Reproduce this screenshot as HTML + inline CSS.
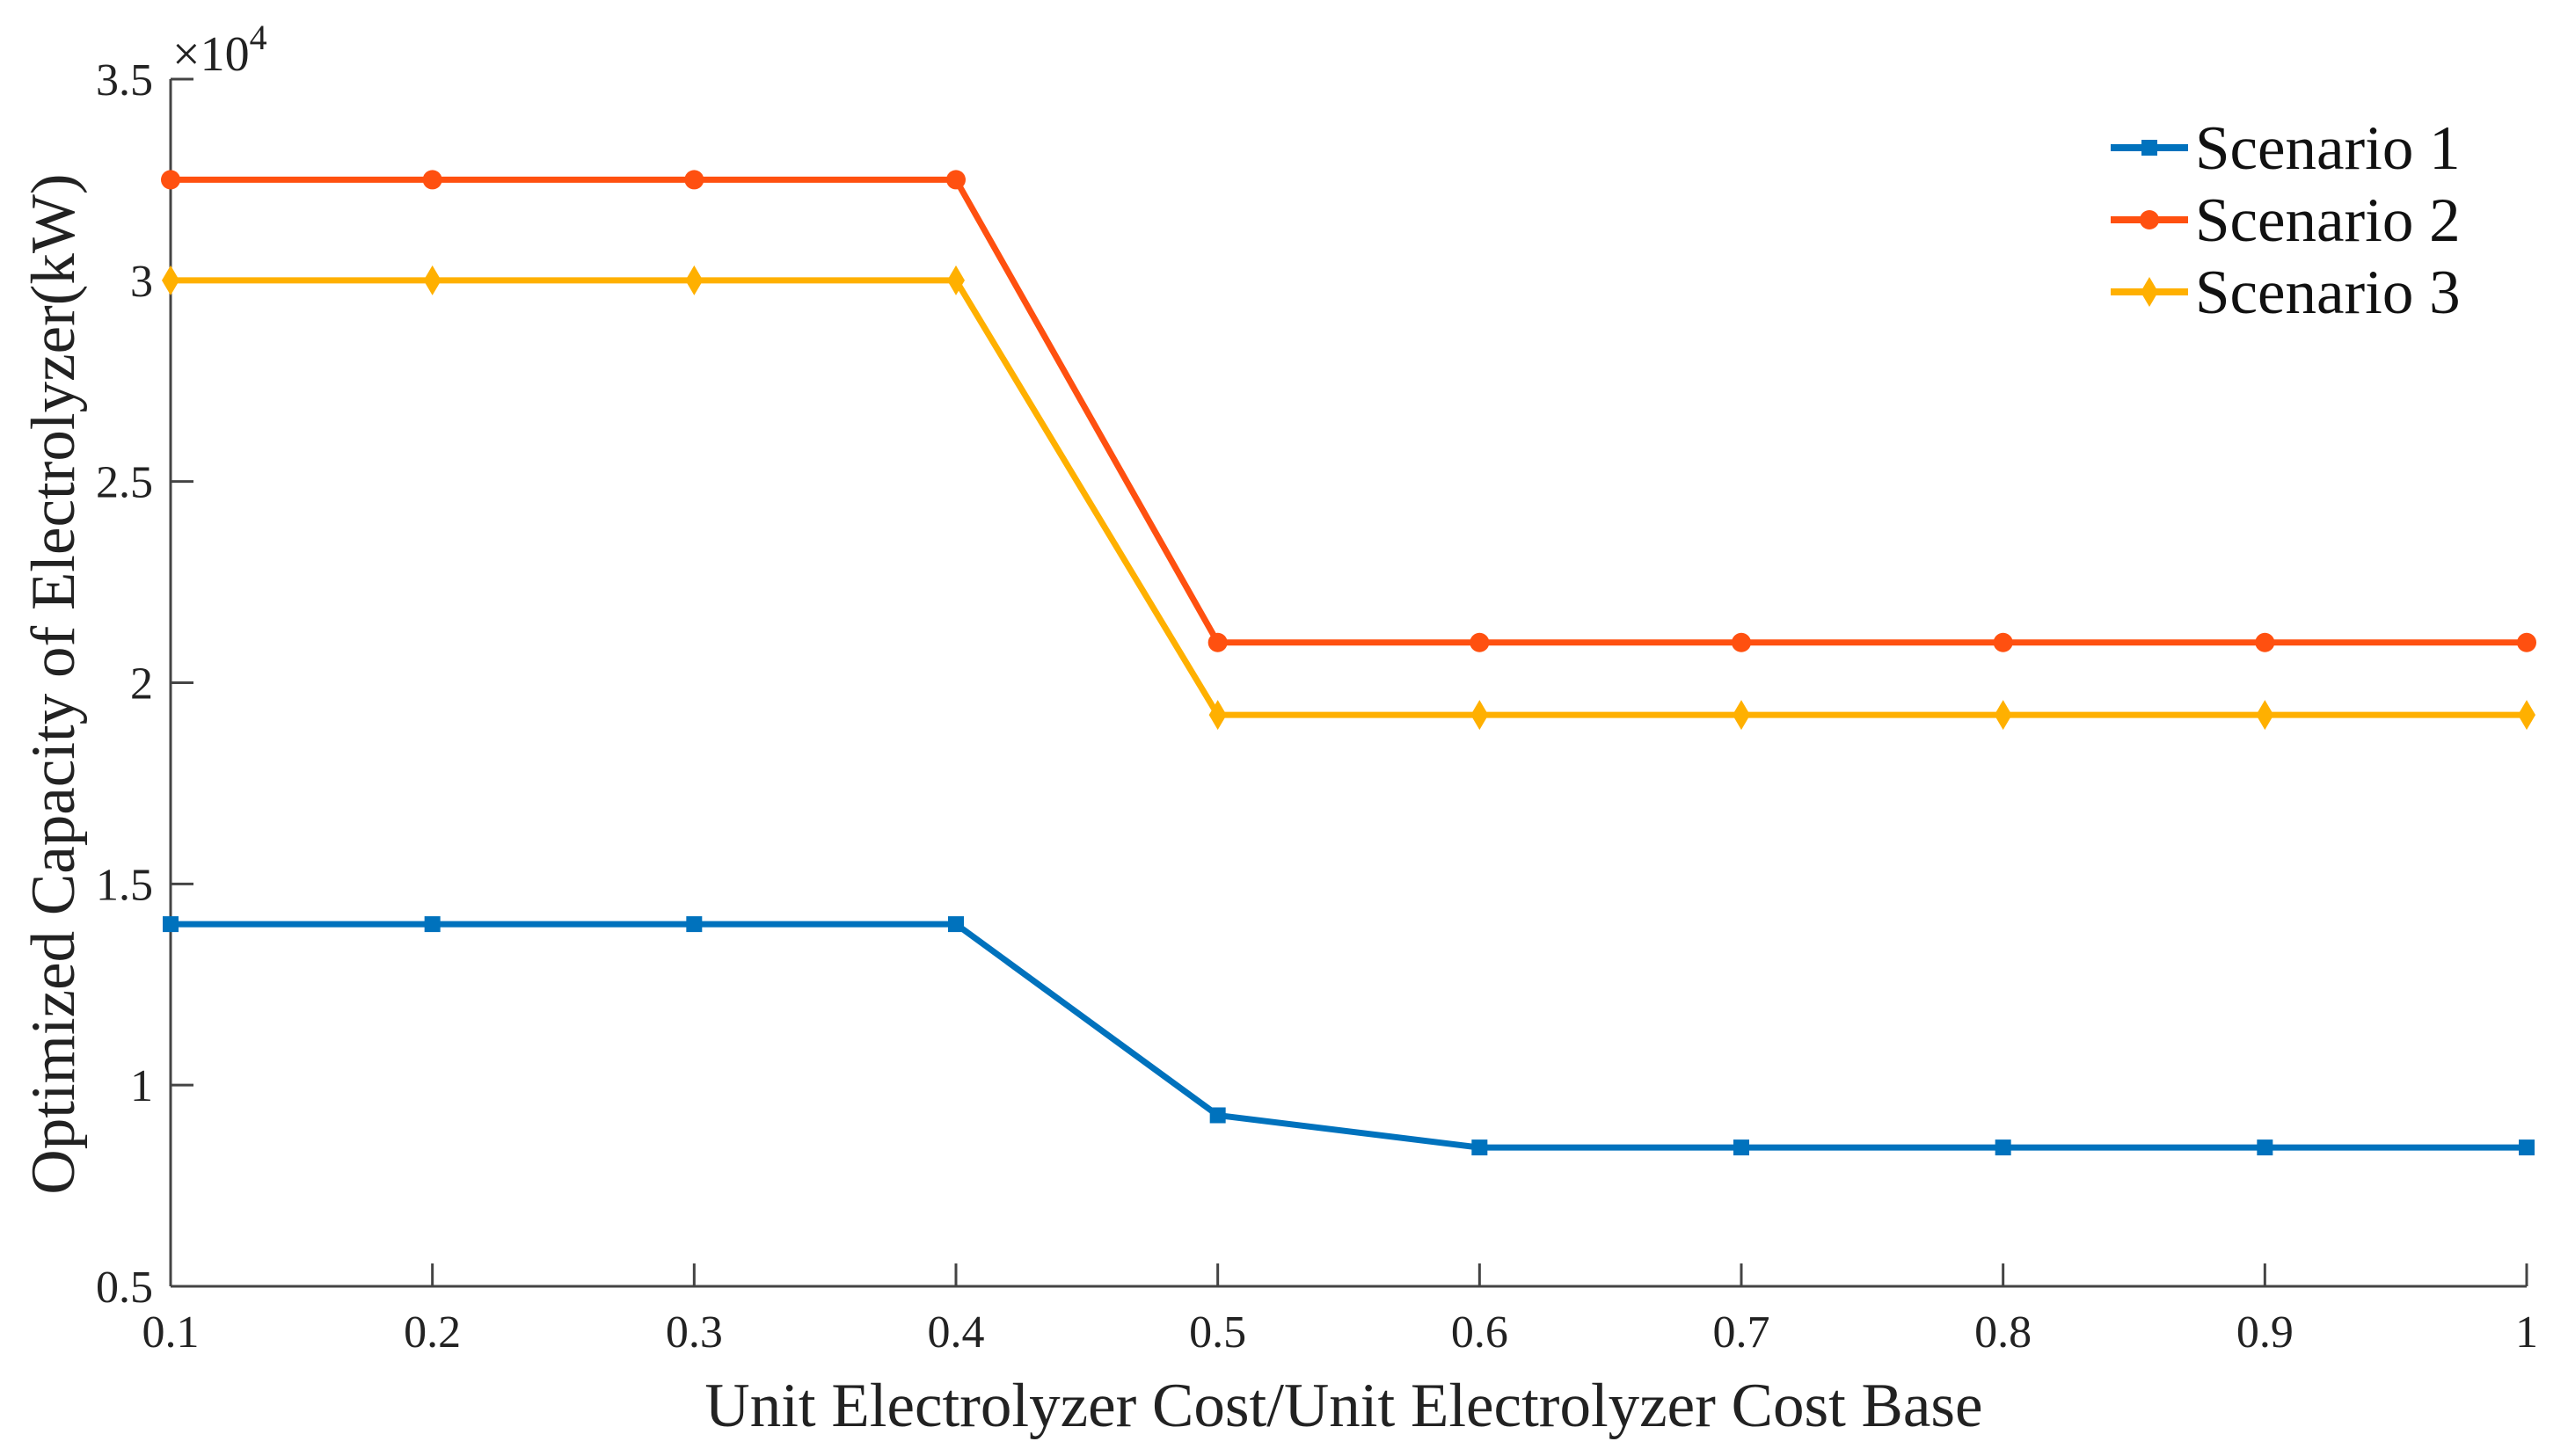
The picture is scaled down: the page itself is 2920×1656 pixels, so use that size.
<!DOCTYPE html>
<html><head><meta charset="utf-8"><style>
html,body{margin:0;padding:0;background:#fff;}
svg{display:block;font-family:"Liberation Serif",serif;}
</style></head><body>
<svg id="chart" width="2920" height="1656" viewBox="0 0 2920 1656">
<g id="axes"></g><g id="series"></g><g id="legend"></g>
</svg>
<script>
const categories=[0.1,0.2,0.3,0.4,0.5,0.6,0.7,0.8,0.9,1.0];
const xTicks=["0.1","0.2","0.3","0.4","0.5","0.6","0.7","0.8","0.9","1"];
const yTickVals=[0.5,1,1.5,2,2.5,3,3.5];
const yTickLabels=["0.5","1","1.5","2","2.5","3","3.5"];
const scenario1=[1.40,1.40,1.40,1.40,0.925,0.845,0.845,0.845,0.845,0.845];
const scenario2=[3.25,3.25,3.25,3.25,2.10,2.10,2.10,2.10,2.10,2.10];
const scenario3=[3.00,3.00,3.00,3.00,1.92,1.92,1.92,1.92,1.92,1.92];
const seriesNames=["Scenario 1","Scenario 2","Scenario 3"];

const NS="http://www.w3.org/2000/svg";
const X0=194,X1=2873,Y0=1463,Y1=90;
const xs=v=>X0+(v-0.1)/0.9*(X1-X0);
const ys=v=>Y0-(v-0.5)/3*(Y0-Y1);
function mk(tag,attrs,parent){const e=document.createElementNS(NS,tag);for(const k in attrs)e.setAttribute(k,attrs[k]);parent.appendChild(e);return e;}
const axes=document.getElementById('axes'),ser=document.getElementById('series'),leg=document.getElementById('legend');

let a=mk('line',{x1:X0,y1:Y0,x2:X1,y2:Y0,stroke:'#444','stroke-width':3},axes);


a=mk('line',{x1:X0,y1:Y0,x2:X0,y2:Y1,stroke:'#444','stroke-width':3},axes);



categories.forEach((c,i)=>{
  const x=xs(c);
  mk('line',{x1:x,y1:Y0,x2:x,y2:Y0-26,stroke:'#444','stroke-width':3},axes);
  const t=mk('text',{x:x,y:1532,'font-size':52,'text-anchor':'middle',fill:'#222'},axes);
  t.textContent=xTicks[i];
  
  
});
yTickVals.forEach((v,i)=>{
  const y=ys(v);
  mk('line',{x1:X0,y1:y,x2:X0+26,y2:y,stroke:'#444','stroke-width':3},axes);
  const t=mk('text',{x:174,y:y+18,'font-size':52,'text-anchor':'end',fill:'#222'},axes);
  t.textContent=yTickLabels[i];
  
  
});
mk('line',{x1:X0,y1:Y1,x2:X0+26,y2:Y1,stroke:'#444','stroke-width':3},axes);
let ex=mk('text',{x:196,y:80,'font-size':56,fill:'#222'},axes);
ex.innerHTML='×10<tspan dy="-24" font-size="40">4</tspan>';


let xt=mk('text',{x:1528,y:1622,'font-size':71,'text-anchor':'middle',fill:'#222'},axes);
xt.textContent='Unit Electrolyzer Cost/Unit Electrolyzer Cost Base';


let yt=mk('text',{x:0,y:0,'font-size':71,'text-anchor':'middle',fill:'#222',transform:'translate(84,778) rotate(-90)'},axes);
yt.textContent='Optimized Capacity of Electrolyzer(kW)';



const colors=['#0072BD','#FF5010','#FFB000'];
const data=[scenario1,scenario2,scenario3];
function marker(type,x,y,col,parent){
  if(type===0) return mk('rect',{x:x-9,y:y-9,width:18,height:18,fill:col},parent);
  if(type===1) return mk('circle',{cx:x,cy:y,r:11,fill:col},parent);
  return mk('polygon',{points:`${x},${y-17} ${x+10},${y} ${x},${y+17} ${x-10},${y}`,fill:col},parent);
}
data.forEach((d,s)=>{
  const g=mk('g',{},ser);
  
  
  const pts=d.map((v,i)=>xs(categories[i])+','+ys(v)).join(' ');
  const pl=mk('polyline',{points:pts,fill:'none',stroke:colors[s],'stroke-width':7,'stroke-linejoin':'round'},g);
  
  
  d.forEach((v,i)=>{
    const m=marker(s,xs(categories[i]),ys(v),colors[s],g);
    
    
  });
  const ly=168+s*82;
  const lg=mk('g',{},leg);
  
  
  mk('line',{x1:2400,y1:ly,x2:2488,y2:ly,stroke:colors[s],'stroke-width':8},lg);
  marker(s,2444,ly,colors[s],lg);
  const t=mk('text',{x:2496,y:ly+24,'font-size':71,fill:'#111'},lg);
  t.textContent=seriesNames[s];
});
</script>
</body></html>
